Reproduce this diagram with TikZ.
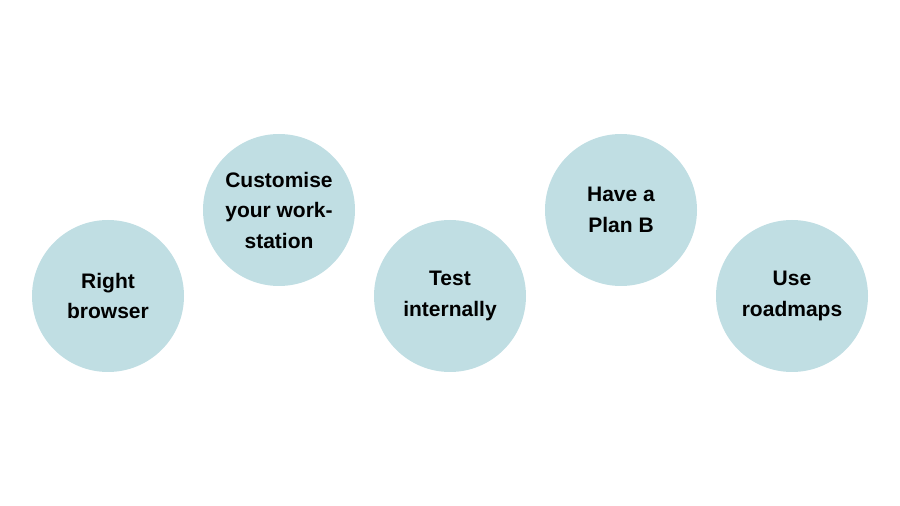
\documentclass[tikz,border=0pt]{standalone}
\usepackage{fontspec}
\setmainfont{Liberation Sans}
\usepackage{tikz}

\definecolor{tipblue}{RGB}{192,222,227}

\tikzset{tip/.style={circle, fill=tipblue, minimum size=152pt, inner sep=0pt,
  align=center, font=\fontsize{21}{30.5}\selectfont\bfseries}}

\begin{document}
\begin{tikzpicture}[x=1pt, y=1pt]
\useasboundingbox (0,0) rectangle (900,506);
\node[tip] (browser) at (108, 210){Right\\browser};
\node[tip] (station) at (279, 296){Customise\\your work-\\station};
\node[tip] (test) at (450, 210){Test\\internally};
\node[tip] (planb) at (621, 296){Have a\\Plan B};
\node[tip] (roadmaps) at (792, 210){Use\\roadmaps};
\end{tikzpicture}
\end{document}
